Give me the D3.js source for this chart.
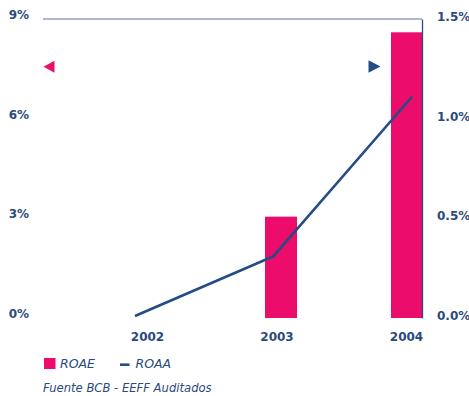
<!DOCTYPE html>
<html>
<head>
<meta charset="utf-8">
<script src="https://cdn.jsdelivr.net/npm/d3@7"></script>
<style>
  html, body { margin: 0; padding: 0; background: #fff; }
  svg { display: block; }
  text { font-family: "DejaVu Sans", sans-serif; }
</style>
</head>
<body>
<script>
// ROAE (bars, left axis) and ROAA (line, right axis), in percent
const years = ["2002", "2003", "2004"];
const roae = [null, 3.05, 8.6];
const roaa = [0.01, 0.31, 1.11];
const leftTicks = [0, 3, 6, 9];
const rightTicks = [0, 0.5, 1.0, 1.5];
const legendLabels = ["ROAE", "ROAA"];
const sourceNote = "Fuente BCB - EEFF Auditados";

const W = 469, H = 396;
const pink = "#ec0c6c";
const navy = "#244c85";
const labelColor = "#2b4a7e";

const svg = d3.select("body").append("svg")
  .attr("width", W).attr("height", H);
svg.append("rect").attr("width", W).attr("height", H).attr("fill", "#fff");

const yTop = 19, yZero = 318, xLeft = 43, xRight = 422;

const yL = d3.scaleLinear().domain([0, 9]).range([yZero, yTop]);
const yR = d3.scaleLinear().domain([0, 1.5]).range([yZero, yTop]);

// bars on a band scale, line on a point scale, year labels on their own point scale
const xBand = d3.scaleBand().domain(years).range([92, 470])
  .paddingInner(0.746).paddingOuter(0.373);
const xLine = d3.scalePoint().domain(years).range([135, 412]);
const xLabel = d3.scalePoint().domain(years).range([147, 406]);

// top border line
svg.append("line")
  .attr("x1", xLeft).attr("x2", xRight)
  .attr("y1", yL(9)).attr("y2", yL(9))
  .attr("stroke", "#5a72a0").attr("stroke-width", 1.2);

// bars
svg.append("g").selectAll("rect")
  .data(years.map((y, i) => ({ year: y, v: roae[i] })).filter(d => d.v != null))
  .join("rect")
  .attr("x", d => xBand(d.year))
  .attr("width", xBand.bandwidth())
  .attr("y", d => yL(d.v))
  .attr("height", d => yL(0) - yL(d.v))
  .attr("fill", pink);

// right axis
const gR = svg.append("g")
  .attr("transform", `translate(${xRight},0)`)
  .call(d3.axisRight(yR).tickValues(rightTicks).tickSize(0).tickSizeOuter(0)
    .tickPadding(15).tickFormat(d => d.toFixed(1) + "%"));
gR.select(".domain").attr("stroke", navy).attr("stroke-width", 1.3);
gR.selectAll("text")
  .attr("fill", labelColor).attr("font-size", 12).attr("font-weight", "bold")
  .attr("font-family", "DejaVu Sans, sans-serif")
  .attr("y", -2.5);

// left axis
const gL = svg.append("g")
  .attr("transform", "translate(29,0)")
  .call(d3.axisLeft(yL).tickValues(leftTicks).tickSize(0).tickPadding(0)
    .tickFormat(d => d + "%"));
gL.select(".domain").remove();
gL.selectAll("text")
  .attr("fill", labelColor).attr("font-size", 12).attr("font-weight", "bold")
  .attr("font-family", "DejaVu Sans, sans-serif")
  .attr("y", -4.5);

// year labels
const gX = svg.append("g")
  .attr("transform", `translate(0,${yZero})`)
  .call(d3.axisBottom(xLabel).tickSize(0).tickPadding(14));
gX.select(".domain").remove();
gX.selectAll("text")
  .attr("fill", labelColor).attr("font-size", 12).attr("font-weight", "bold")
  .attr("font-family", "DejaVu Sans, sans-serif");

// ROAA line
svg.append("path")
  .datum(years.map((y, i) => [xLine(y), yR(roaa[i])]))
  .attr("d", d3.line())
  .attr("fill", "none")
  .attr("stroke", navy)
  .attr("stroke-width", 2.6)
  .attr("stroke-linejoin", "round");

// axis indicator triangles
svg.append("path")
  .attr("d", "M43.5,66.7 L54.5,60.7 L54.5,72.7 Z")
  .attr("fill", pink);
svg.append("path")
  .attr("d", "M380.5,66.5 L368.5,60.2 L368.5,72.8 Z")
  .attr("fill", navy);

// legend
const lg = svg.append("g");
lg.append("rect").attr("x", 44).attr("y", 358).attr("width", 11.5).attr("height", 11)
  .attr("fill", pink);
lg.append("text").attr("x", 60).attr("y", 368).text(legendLabels[0])
  .attr("font-size", 12.5).attr("font-style", "italic").attr("fill", labelColor);
lg.append("line").attr("x1", 120).attr("x2", 129.5).attr("y1", 364.7).attr("y2", 364.7)
  .attr("stroke", navy).attr("stroke-width", 2.6);
lg.append("text").attr("x", 135.5).attr("y", 368).text(legendLabels[1])
  .attr("font-size", 12.5).attr("font-style", "italic").attr("fill", labelColor);

svg.append("text").attr("x", 43).attr("y", 392).text(sourceNote)
  .attr("font-size", 11.6).attr("font-style", "italic").attr("fill", labelColor);
</script>
</body>
</html>
